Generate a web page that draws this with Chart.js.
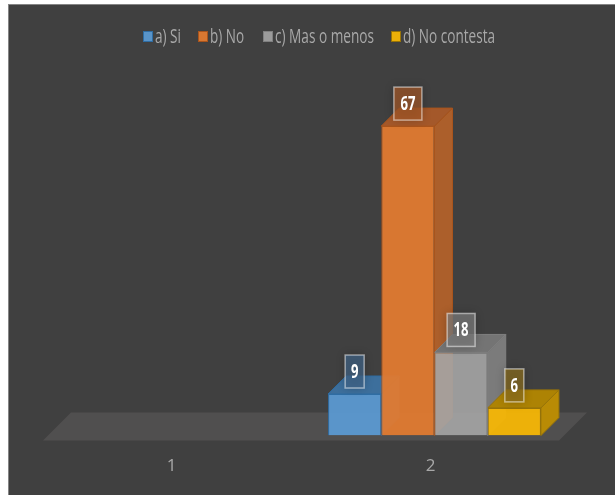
<!DOCTYPE html>
<html>
<head>
<meta charset="utf-8">
<script src="https://cdn.jsdelivr.net/npm/chart.js@4"></script>
<style>
  html, body { margin: 0; padding: 0; background: #fff; }
  #wrap { position: absolute; left: 8px; top: 4px; width: 607px; height: 491px; background: #404040; box-shadow: inset 1px 1px 0 #858585; }
  canvas { display: block; }
</style>
</head>
<body>
<div id="wrap"><canvas id="chart" width="607" height="491"></canvas></div>
<script>
const categories = ['1', '2'];
const seriesNames = ['a) Si', 'b) No', 'c) Mas o menos', 'd) No contesta'];
const siValues = [null, 9];
const noValues = [null, 67];
const masMenosValues = [null, 18];
const noContestaValues = [null, 6];

const seriesValues = [siValues, noValues, masMenosValues, noContestaValues];
const fills = ['rgba(91,155,213,0.92)', 'rgba(224,122,48,0.95)', 'rgba(165,165,165,0.9)', 'rgba(245,182,5,0.95)'];
const lines = ['#2f6da3', '#a9541c', '#808080', '#987408'];
const sides = ['#3f76a8', '#ac5f2b', '#7b7b7b', '#b98b05'];
const tops = ['#3d6f9c', '#a4582a', '#747474', '#ad8304'];
const labelFills = ['rgba(64,100,135,0.7)', 'rgba(165,88,40,0.7)', 'rgba(125,125,125,0.7)', 'rgba(140,110,30,0.7)'];

// legend text is squeezed to these widths, the original font is a tall narrow one
const legendX = [135, 190, 255, 383];
const legendTextW = [26, 34, 99, 92];

const depth = 18;

const bars3d = {
    id: 'bars3d',
    beforeDatasetsDraw(chart) {
        const ctx = chart.ctx;
        const x = chart.scales.x;
        const base = chart.scales.y.getPixelForValue(0);
        ctx.save();
        ctx.fillStyle = '#504f4f';
        ctx.beginPath();
        ctx.moveTo(x.left - 3, base + 5);
        ctx.lineTo(x.right - 5, base + 5);
        ctx.lineTo(x.right + 23, base - 23);
        ctx.lineTo(x.left + 25, base - 23);
        ctx.closePath();
        ctx.fill();
        chart.data.datasets.forEach((ds, i) => {
            chart.getDatasetMeta(i).data.forEach((bar, j) => {
                if (ds.data[j] == null) return;
                const l = bar.x - bar.width / 2;
                const r = bar.x + bar.width / 2;
                ctx.strokeStyle = lines[i];
                ctx.lineWidth = 1;
                ctx.fillStyle = sides[i];
                ctx.beginPath();
                ctx.moveTo(r, bar.y);
                ctx.lineTo(r + depth, bar.y - depth);
                ctx.lineTo(r + depth, base - depth);
                ctx.lineTo(r, base);
                ctx.closePath();
                ctx.fill();
                ctx.stroke();
                ctx.fillStyle = tops[i];
                ctx.beginPath();
                ctx.moveTo(l, bar.y);
                ctx.lineTo(l + depth, bar.y - depth);
                ctx.lineTo(r + depth, bar.y - depth);
                ctx.lineTo(r, bar.y);
                ctx.closePath();
                ctx.fill();
                ctx.stroke();
            });
        });
        ctx.restore();
    },
    afterDatasetsDraw(chart) {
        const ctx = chart.ctx;
        ctx.save();
        ctx.textAlign = 'center';
        ctx.textBaseline = 'middle';
        ctx.font = 'bold 19px "Open Sans", sans-serif';
        chart.data.datasets.forEach((ds, i) => {
            chart.getDatasetMeta(i).data.forEach((bar, j) => {
                if (ds.data[j] == null) return;
                const text = String(ds.data[j]);
                const w = text.length > 1 ? 28 : 19;
                const h = 33;
                const bx = bar.x - w / 2;
                const by = bar.y - 6 - h;
                ctx.shadowColor = 'rgba(0,0,0,0.35)';
                ctx.shadowBlur = 10;
                ctx.fillStyle = labelFills[i];
                ctx.fillRect(bx, by, w, h);
                ctx.shadowColor = 'transparent';
                ctx.shadowBlur = 0;
                ctx.strokeStyle = 'rgba(255,255,255,0.5)';
                ctx.lineWidth = 1.5;
                ctx.strokeRect(bx, by, w, h);
                ctx.fillStyle = '#fff';
                ctx.fillText(text, bar.x, by + h / 2 + 1, 7.5 * text.length);
            });
        });

        // legend
        ctx.textAlign = 'left';
        ctx.font = '20px "Open Sans", sans-serif';
        seriesNames.forEach((name, i) => {
            ctx.fillStyle = fills[i];
            ctx.strokeStyle = lines[i];
            ctx.lineWidth = 1;
            ctx.fillRect(legendX[i] + 0.5, 27.5, 9, 10);
            ctx.strokeRect(legendX[i] + 0.5, 27.5, 9, 10);
            ctx.fillStyle = '#a8a8a8';
            ctx.fillText(name, legendX[i] + 12, 33, legendTextW[i]);
        });
        ctx.restore();
    }
};

new Chart(document.getElementById('chart'), {
    type: 'bar',
    data: {
        labels: categories,
        datasets: seriesNames.map((name, i) => ({
            label: name,
            data: seriesValues[i],
            backgroundColor: fills[i],
            borderColor: lines[i],
            borderWidth: 1
        }))
    },
    options: {
        responsive: false,
        animation: false,
        layout: { padding: { left: 38, right: 51, top: 99, bottom: 0 } },
        datasets: { bar: { categoryPercentage: 0.822, barPercentage: 1 } },
        scales: {
            x: {
                grid: { display: false, tickLength: 1 },
                border: { display: false },
                ticks: {
                    color: '#a8a8a8',
                    font: { family: '"Open Sans", sans-serif', size: 17 },
                    padding: 19,
                    labelOffset: -4
                }
            },
            y: { display: false, min: 0, max: 72 }
        },
        plugins: {
            legend: { display: false },
            tooltip: { enabled: false }
        }
    },
    plugins: [bars3d]
});
</script>
</body>
</html>
